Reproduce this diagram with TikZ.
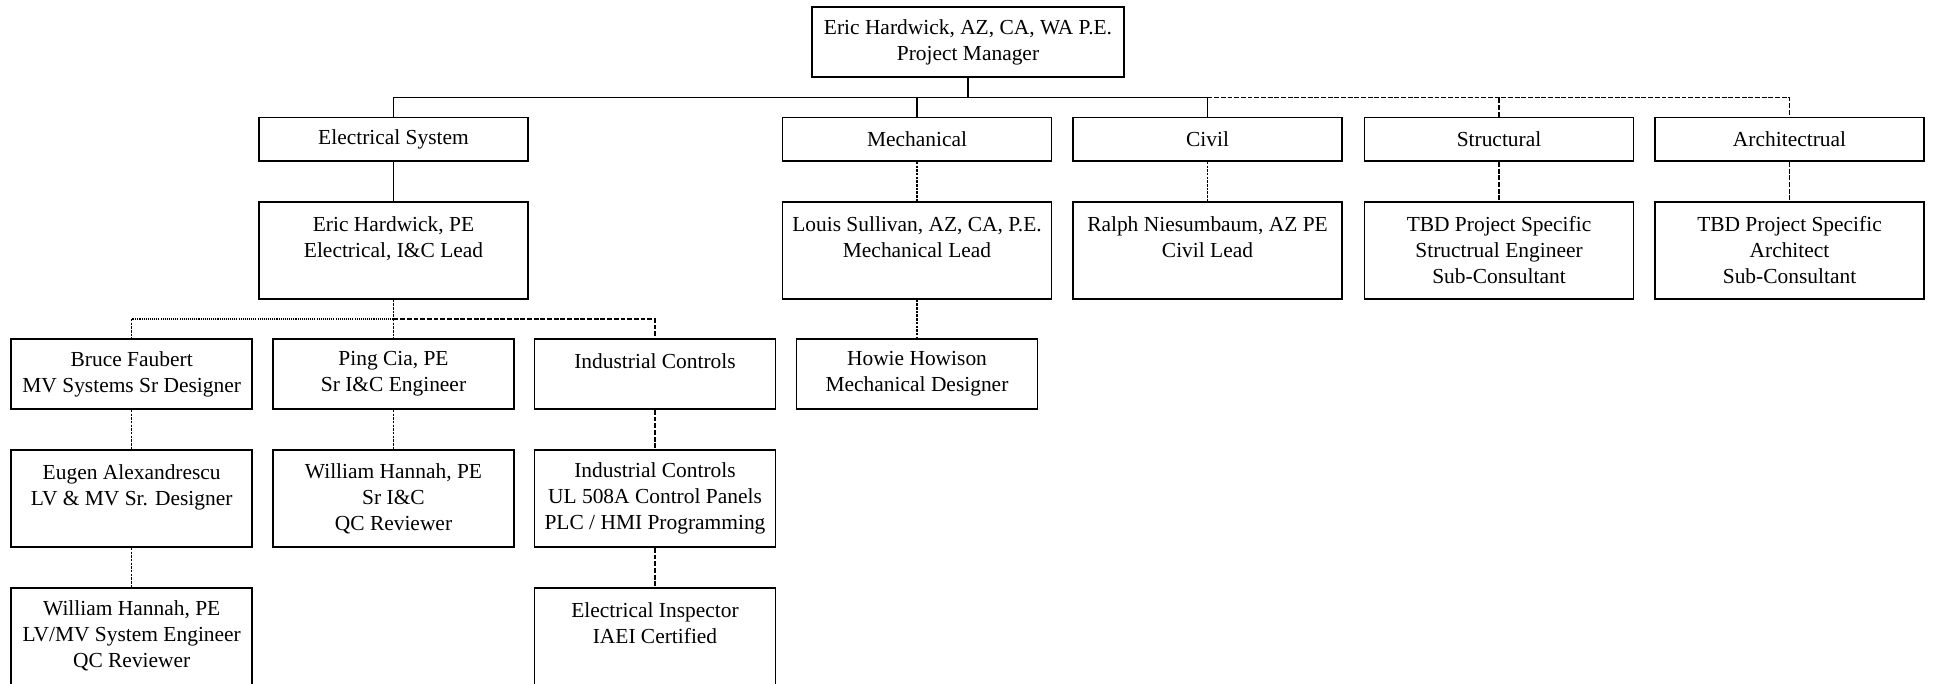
\documentclass[tikz,border=0pt]{standalone}
\usepackage{fontspec}
\setmainfont{Liberation Serif}
\begin{document}
\begin{tikzpicture}[x=0.02cm,y=-0.02cm,
  orgbox/.style={draw,line width=1pt,align=center,inner sep=0pt,
    font=\fontsize{12.2}{14.8}\selectfont},
  wide/.style={orgbox,minimum width=5.38cm},
  narrow/.style={orgbox,minimum width=4.82cm},
  tie/.style={line width=0.6pt},
  dashlong/.style={tie,dash pattern=on 2.8pt off 1pt},
  dashshort/.style={tie,dash pattern=on 1.4pt off 0.7pt},
  dotline/.style={tie,dash pattern=on 0.6pt off 0.6pt}]
\clip (0,0) rectangle (1933,683);
% project manager
\node[orgbox,minimum width=6.24cm,minimum height=1.4cm] (pm) at (968,42)
  {Eric Hardwick, AZ, CA, WA P.E.\\Project Manager};
% disciplines
\node[wide,minimum height=0.87cm] (elec) at (393.5,139.3) {Electrical System};
\node[wide,minimum height=0.87cm] (mech) at (917,139.3) {Mechanical};
\node[wide,minimum height=0.87cm] (civ) at (1207.5,139.3) {Civil};
\node[wide,minimum height=0.87cm] (struc) at (1499,139.3) {Structural};
\node[wide,minimum height=0.87cm] (arch) at (1789.5,139.3) {Architectrual};
% leads
\node[wide,minimum height=1.94cm] (eleclead) at (393.5,250.3)
  {Eric Hardwick, PE\\Electrical, I\&C Lead\\~};
\node[wide,minimum height=1.94cm] (mechlead) at (917,250.3)
  {Louis Sullivan, AZ, CA, P.E.\\Mechanical Lead\\~};
\node[wide,minimum height=1.94cm] (civlead) at (1207.5,250.3)
  {Ralph Niesumbaum, AZ PE\\Civil Lead\\~};
\node[wide,minimum height=1.94cm] (struclead) at (1499,250.3)
  {TBD Project Specific\\Structrual Engineer\\Sub-Consultant};
\node[wide,minimum height=1.94cm] (archlead) at (1789.5,250.3)
  {TBD Project Specific\\Architect\\Sub-Consultant};
% electrical staff
\node[narrow,minimum height=1.4cm] (bruce) at (131.7,374)
  {Bruce Faubert\\MV Systems Sr Designer};
\node[narrow,minimum height=1.4cm] (ping) at (393.5,374)
  {Ping Cia, PE\\Sr I\&C Engineer};
\node[narrow,minimum height=1.4cm] (ind) at (655,374)
  {Industrial Controls\\~};
\node[narrow,minimum height=1.4cm] (howie) at (917,374)
  {Howie Howison\\Mechanical Designer};
\node[narrow,minimum height=1.94cm] (eugen) at (131.7,498.5)
  {Eugen Alexandrescu\\LV \& MV Sr. Designer\\~};
\node[narrow,minimum height=1.94cm] (hannah) at (393.5,498.5)
  {William Hannah, PE\\Sr I\&C\\QC Reviewer};
\node[narrow,minimum height=1.94cm] (panels) at (655,498.5)
  {Industrial Controls\\UL 508A Control Panels\\PLC / HMI Programming};
\node[narrow,minimum height=1.94cm] (hannahlv) at (131.7,636.2)
  {William Hannah, PE\\LV/MV System Engineer\\QC Reviewer};
\node[narrow,minimum height=1.94cm] (insp) at (655,636.2)
  {Electrical Inspector\\IAEI Certified\\~};
% buses
\coordinate (bus) at (968,97.7);
\coordinate (ebus) at (393.5,319);
\draw[tie] (pm.south) -- (pm.south |- bus);
\draw[tie] (elec.north) -- (elec.north |- bus) -- (civ.north |- bus) -- (civ.north);
\draw[tie] (mech.north) -- (mech.north |- bus);
\draw[dashlong] (civ.north |- bus) -- (arch.north |- bus) -- (arch.north);
\draw[dashlong] (struc.north) -- (struc.north |- bus);
% down to leads
\draw[tie] (elec) -- (eleclead);
\draw[dashshort] (mech) -- (mechlead);
\draw[dashshort] (civ) -- (civlead);
\draw[dashlong] (struc) -- (struclead);
\draw[dashlong] (arch) -- (archlead);
\draw[dashshort] (mechlead) -- (howie);
% electrical branch
\draw[dashshort] (eleclead.south) -- (ebus);
\draw[dotline] (ebus) -- (bruce.north |- ebus);
\draw[dashshort] (bruce.north |- ebus) -- (bruce.north);
\draw[dashshort] (ebus) -- (ping.north);
\draw[dashlong] (ebus) -| (ind.north);
\draw[dashshort] (bruce) -- (eugen);
\draw[dashshort] (eugen) -- (hannahlv);
\draw[dashshort] (ping) -- (hannah);
\draw[dashlong] (ind) -- (panels);
\draw[dashlong] (panels) -- (insp);
\end{tikzpicture}
\end{document}
